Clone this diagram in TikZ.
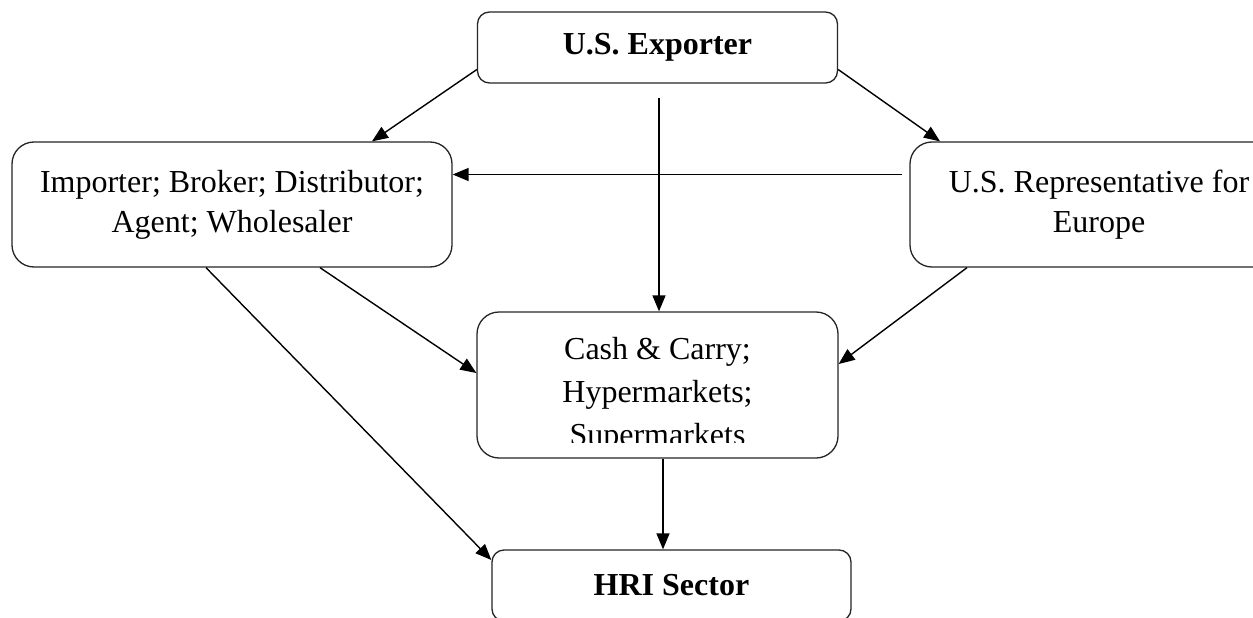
\documentclass[tikz,border=0pt]{standalone}
\usepackage{fontspec}
\setmainfont{Liberation Serif}
\usetikzlibrary{arrows.meta}
\tikzset{
  box/.style={draw=black!85, line width=1.3pt, align=center, inner sep=0pt,
    font=\fontsize{32}{40}\selectfont},
  bigbox/.style={box, rounded corners=22pt},
  smallbox/.style={box, rounded corners=12pt, font=\fontsize{32}{40}\selectfont\bfseries},
  conn/.style={line width=1.4pt, draw=black,
    -{Triangle[length=16pt,width=13pt]}},
}
\begin{document}
\begin{tikzpicture}[x=1pt,y=-1pt]
\clip (0,0) rectangle (1253,618);
\fill[white] (0,0) rectangle (1253,618);

\node[smallbox, minimum width=360pt, minimum height=71pt] (exp) at (657.5,47.5) {\raisebox{-3pt}{U.S. Exporter}};
\node[bigbox, minimum width=440pt, minimum height=125pt] (imp) at (232,204.5)
  {Importer; Broker; Distributor;\\Agent; Wholesaler};
\node[bigbox, minimum width=378pt, minimum height=125pt] (rep) at (1099,204.5)
  {U.S. Representative for\\Europe};
\node[bigbox, minimum width=361pt, minimum height=146pt] (cash) at (657.5,385) {};
\begin{scope}
  \clip (480,316) rectangle (835,442);
  \node[align=center, inner sep=0pt, font=\fontsize{32}{43}\selectfont] (cashtext) at (657.5,395)
    {Cash \& Carry;\\Hypermarkets;\\Supermarkets};
\end{scope}
\node[smallbox, minimum width=359pt, minimum height=71pt] (hri) at (671.5,585.5) {HRI Sector};

\draw[conn] ([yshift=-22pt]exp.west) -- ([xshift=140pt]imp.north);
\draw[conn] ([yshift=-22pt]exp.east) -- ([xshift=-159pt]rep.north);
\draw[conn] ([xshift=1.5pt,yshift=-14pt]exp.south) -- ([xshift=1.5pt]cash.north);
\draw[conn] ([xshift=-7pt,yshift=30pt]rep.west) -- ([yshift=30pt]imp.east);
\draw[conn] ([xshift=88pt]imp.south) -- ([yshift=12pt]cash.west);
\draw[conn] ([xshift=-132pt]rep.south) -- ([yshift=21pt]cash.east);
\draw[conn] ([xshift=-26pt]imp.south) -- ([yshift=25.5pt]hri.west);
\draw[conn] ([xshift=5.5pt]cash.south) -- ([xshift=-8.5pt]hri.north);
\end{tikzpicture}
\end{document}
